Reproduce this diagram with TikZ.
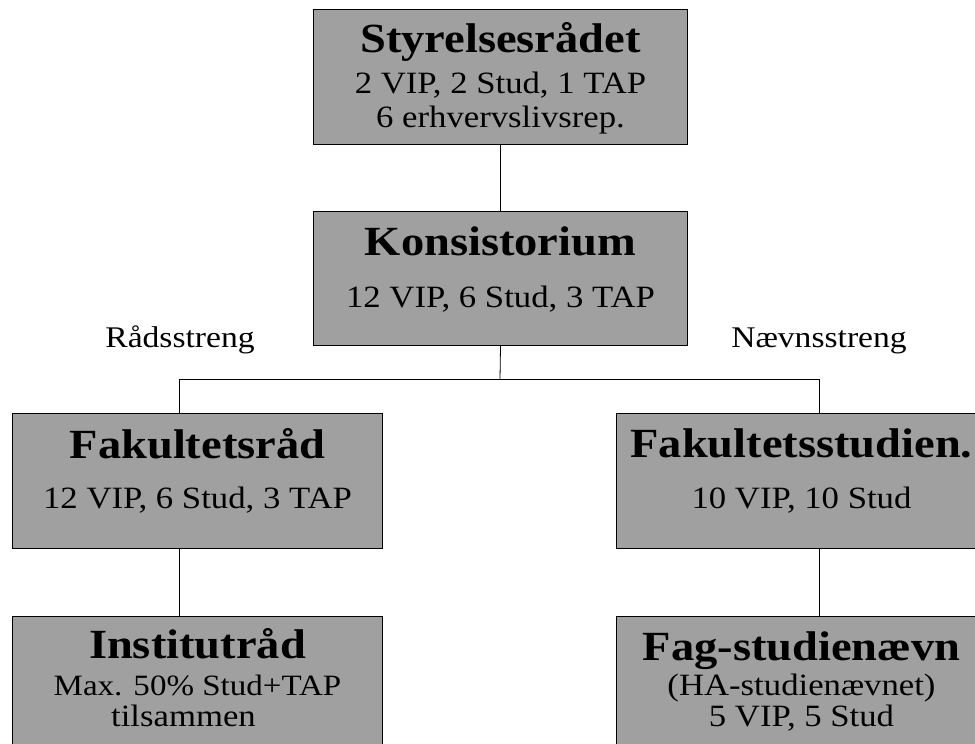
\documentclass[tikz,border=0pt]{standalone}
\usepackage{fontspec}
\setmainfont{Liberation Serif}[FakeStretch=1.12]
\usepackage{tikz}

\definecolor{boxgray}{RGB}{160,160,160}
\newcommand{\titlefont}{\fontsize{41.5}{44}\selectfont\bfseries}
\newcommand{\bodyfont}{\fontsize{31}{33}\selectfont}
% one line of a box: #1 = distance from the baseline above
\newcommand{\rowat}[2]{\rule[-9pt]{0pt}{#1pt}{#2}\par}
\newcommand{\boxtext}[3]{\parbox[t][#2pt][t]{#1pt}{\offinterlineskip\centering\bodyfont #3}}

\begin{document}
\begin{tikzpicture}[x=1pt,y=-1pt,
    org/.style={draw=black,fill=boxgray,line width=1pt,inner sep=0pt,anchor=north west},
    link/.style={draw=black,line width=0.8pt},
    strand/.style={font=\fontsize{30}{32}\selectfont,anchor=base,inner sep=0pt}]
  \useasboundingbox (0,0) rectangle (975,744);
  \clip (0,0) rectangle (975,744);
  % top of the tree
  \node[org] (sty) at (313,9) {\boxtext{374}{135}{%
      \rowat{52}{\titlefont Styrelsesrådet}
      \rowat{41}{2 VIP, 2 Stud, 1 TAP}
      \rowat{34}{6 erhvervslivsrep.}}};
  \node[org] (kon) at (313,211) {\boxtext{374}{134}{%
      \rowat{53}{\titlefont Konsistorium}
      \rowat{52}{12 VIP, 6 Stud, 3 TAP}}};
  % left strand
  \node[org] (fak) at (12,413) {\boxtext{370}{135}{%
      \rowat{54}{\titlefont Fakultetsråd}
      \rowat{50}{12 VIP, 6 Stud, 3 TAP}}};
  \node[org] (ins) at (12,616) {\boxtext{370}{140}{%
      \rowat{51}{\titlefont Institutråd}
      \rowat{37}{\fontsize{29.5}{31}\selectfont Max. 50\% Stud+TAP}
      \rowat{30}{tilsammen\hspace*{28pt}}}};
  % right strand
  \node[org] (fst) at (616,413) {\boxtext{370}{135}{%
      \rowat{53}{\titlefont Fakultetsstudien.}
      \rowat{51}{10 VIP, 10 Stud}}};
  \node[org] (fag) at (616,616) {\boxtext{370}{140}{%
      \rowat{53}{\titlefont Fag-studienævn}
      \rowat{35}{(HA-studienævnet)}
      \rowat{30}{5 VIP, 5 Stud}}};

  \node[strand] (rad) at (180,347) {Rådsstreng};
  \node[strand] (naevn) at (819,347) {Nævnsstreng};

  % connectors
  \coordinate (split) at (500,379.5);
  \draw[link] (sty.south) -- (kon.north);
  \draw[link] (kon.south) -- (split);
  \draw[link] ([xshift=-18pt]fak.north) |- (split) -| ([xshift=18pt]fst.north);
  \draw[link] ([xshift=-18pt]fak.south) -- ([xshift=-18pt]ins.north);
  \draw[link] ([xshift=18pt]fst.south) -- ([xshift=18pt]fag.north);
\end{tikzpicture}
\end{document}
